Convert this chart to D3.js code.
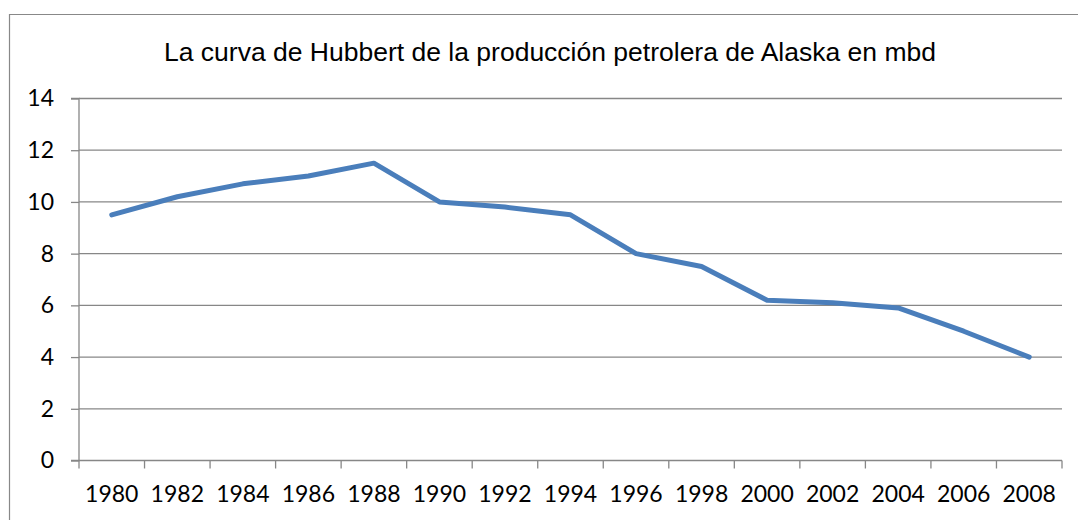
<!DOCTYPE html>
<html>
<head>
<meta charset="utf-8">
<script src="https://cdn.jsdelivr.net/npm/d3@7"></script>
<style>
  body { margin: 0; background: #fff; }
  .tick text { font-family: Lato, "Open Sans", sans-serif; font-size: 23px; fill: #000; }
</style>
</head>
<body>
<div id="chart"></div>
<script>
var years = ["1980", "1982", "1984", "1986", "1988", "1990", "1992", "1994",
             "1996", "1998", "2000", "2002", "2004", "2006", "2008"];
var production = [9.5, 10.2, 10.7, 11.0, 11.5, 10.0, 9.8, 9.5,
                  8.0, 7.5, 6.2, 6.1, 5.9, 5.0, 4.0];
var yTicks = [0, 2, 4, 6, 8, 10, 12, 14];
var title = "La curva de Hubbert de la producción petrolera de Alaska en mbd";

var svgWidth = 1078;
var svgHeight = 520;

var margin = { top: 98.5, right: 16, bottom: 59.5, left: 79 };
var width = svgWidth - margin.left - margin.right;
var height = svgHeight - margin.top - margin.bottom;

var svg = d3.select("#chart")
  .append("svg")
  .attr("width", svgWidth)
  .attr("height", svgHeight);

// chart frame (clipped at right and bottom like the original)
svg.append("path")
  .attr("d", "M9.5," + svgHeight + "V14.5H" + svgWidth)
  .attr("fill", "none")
  .attr("stroke", "#888")
  .attr("stroke-width", 1.2);

svg.append("text")
  .attr("x", 550)
  .attr("y", 61)
  .attr("text-anchor", "middle")
  .attr("font-family", "'Liberation Sans', Arial, sans-serif")
  .attr("font-size", "26.5px")
  .text(title);

var chartGroup = svg.append("g")
  .attr("transform", `translate(${margin.left}, ${margin.top})`);

var x = d3.scaleBand()
  .domain(years)
  .range([0, width]);

var y = d3.scaleLinear()
  .domain([0, 14])
  .range([height, 0]);

// gridlines
chartGroup.append("g")
  .selectAll("line")
  .data(yTicks.filter(d => d > 0))
  .enter()
  .append("line")
  .attr("x1", 0)
  .attr("x2", width)
  .attr("y1", d => y(d))
  .attr("y2", d => y(d))
  .attr("stroke", "#878787")
  .attr("stroke-width", 1.3);

var leftAxis = d3.axisLeft(y)
  .tickValues(yTicks)
  .tickSize(8)
  .tickPadding(17)
  .tickFormat(d3.format("d"));

var yAxis = chartGroup.append("g").call(leftAxis);
yAxis.selectAll("line, path").attr("stroke", "#878787").attr("stroke-width", 1.3);
yAxis.select(".domain").attr("d", `M-8,${height}H0V0H-8`);
yAxis.selectAll(".tick line").attr("x2", -8);

// category axis: ticks at band edges
var xAxis = chartGroup.append("g")
  .attr("transform", `translate(0, ${height})`);

xAxis.append("line")
  .attr("x1", 0).attr("x2", width)
  .attr("stroke", "#878787").attr("stroke-width", 1.3);

xAxis.selectAll(".edge")
  .data(years.concat(["end"]))
  .enter()
  .append("line")
  .attr("class", "edge")
  .attr("x1", (d, i) => i < years.length ? x(d) : width)
  .attr("x2", (d, i) => i < years.length ? x(d) : width)
  .attr("y1", 0)
  .attr("y2", 8)
  .attr("stroke", "#878787")
  .attr("stroke-width", 1.3);

xAxis.selectAll(".lbl")
  .data(years)
  .enter()
  .append("text")
  .attr("class", "lbl")
  .attr("x", d => x(d) + x.bandwidth() / 2)
  .attr("y", 41)
  .attr("text-anchor", "middle")
  .attr("font-family", "Lato, 'Open Sans', sans-serif")
  .attr("font-size", "23px")
  .text(d => d);

var line = d3.line()
  .x((d, i) => x(years[i]) + x.bandwidth() / 2)
  .y(d => y(d));

chartGroup.append("path")
  .datum(production)
  .attr("d", line)
  .attr("fill", "none")
  .attr("stroke", "#4a7ebb")
  .attr("stroke-width", 5)
  .attr("stroke-linejoin", "round")
  .attr("stroke-linecap", "round");
</script>
</body>
</html>
